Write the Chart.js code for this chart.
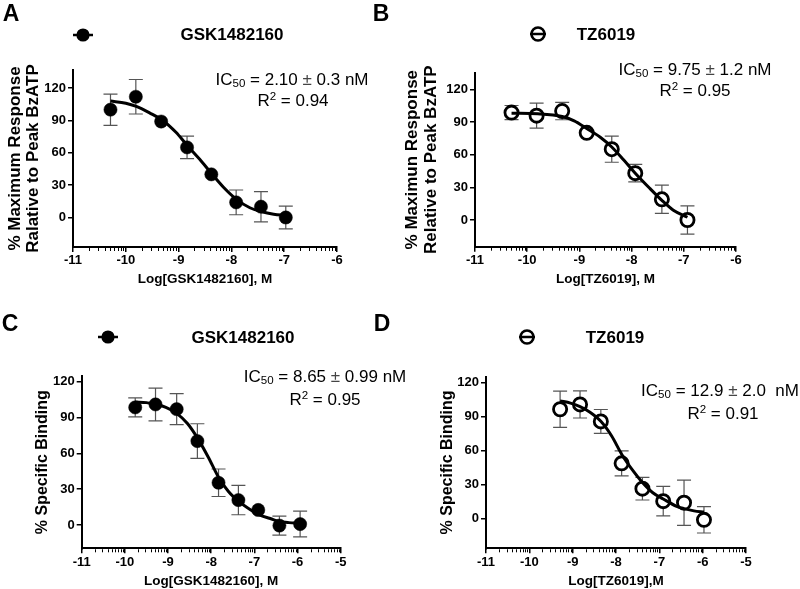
<!DOCTYPE html>
<html><head><meta charset="utf-8">
<script src="https://cdn.jsdelivr.net/npm/chart.js@4.4.1/dist/chart.umd.min.js"></script>
<style>
html,body{margin:0;padding:0;background:#fff}
body{width:800px;height:589px;position:relative;overflow:hidden;font-family:"Liberation Sans",Arial,sans-serif;color:#000}
canvas{position:absolute}
.t{position:absolute;white-space:pre;line-height:1;transform:translate(-50%,-50%);z-index:5}
.lt{font-weight:bold;font-size:23px}
.lg{font-weight:bold;font-size:17px}
.ic{font-size:17px}
.ic sub{font-size:0.68em;vertical-align:-0.25em;line-height:0}
.ic sup{font-size:0.68em;vertical-align:0.45em;line-height:0}
.pm{color:#444}
.mk{position:absolute;transform:translate(-50%,-50%);z-index:5}
</style>
</head><body>
<canvas id="cA" width="400" height="295" style="left:0;top:0"></canvas>
<canvas id="cB" width="400" height="295" style="left:400px;top:0"></canvas>
<canvas id="cC" width="400" height="297" style="left:0;top:292px"></canvas>
<canvas id="cD" width="400" height="297" style="left:400px;top:292px"></canvas>

<div class="t lt" style="left:11px;top:13px">A</div>
<div class="t lt" style="left:381px;top:13px">B</div>
<div class="t lt" style="left:10px;top:323px">C</div>
<div class="t lt" style="left:382px;top:323px">D</div>

<svg class="mk" style="left:83px;top:35px" width="24" height="16"><line x1="2" y1="8" x2="22" y2="8" stroke="#000" stroke-width="2.5"/><circle cx="12" cy="8" r="6.6" fill="#000"/></svg>
<div class="t lg" style="left:232px;top:34px">GSK1482160</div>
<svg class="mk" style="left:538px;top:33.5px" width="24" height="18"><circle cx="12" cy="9" r="6.5" fill="#fff" stroke="#000" stroke-width="2.6"/><line x1="4" y1="9" x2="20" y2="9" stroke="#000" stroke-width="2.5"/></svg>
<div class="t lg" style="left:606px;top:33.5px">TZ6019</div>
<svg class="mk" style="left:108px;top:337px" width="24" height="16"><line x1="2" y1="8" x2="22" y2="8" stroke="#000" stroke-width="2.5"/><circle cx="12" cy="8" r="6.6" fill="#000"/></svg>
<div class="t lg" style="left:243px;top:337px">GSK1482160</div>
<svg class="mk" style="left:527px;top:337px" width="24" height="18"><circle cx="12" cy="9" r="6.5" fill="#fff" stroke="#000" stroke-width="2.6"/><line x1="4" y1="9" x2="20" y2="9" stroke="#000" stroke-width="2.5"/></svg>
<div class="t lg" style="left:615px;top:337px">TZ6019</div>

<div class="t ic" style="left:292px;top:78.5px">IC<sub>50</sub> = 2.10 <span class="pm">±</span> 0.3 nM</div>
<div class="t ic" style="left:293px;top:99.5px">R<sup>2</sup> = 0.94</div>
<div class="t ic" style="left:695px;top:68.5px">IC<sub>50</sub> = 9.75 <span class="pm">±</span> 1.2 nM</div>
<div class="t ic" style="left:695px;top:90px">R<sup>2</sup> = 0.95</div>
<div class="t ic" style="left:325px;top:376px">IC<sub>50</sub> = 8.65 <span class="pm">±</span> 0.99 nM</div>
<div class="t ic" style="left:325px;top:398.5px">R<sup>2</sup> = 0.95</div>
<div class="t ic" style="left:720px;top:390px">IC<sub>50</sub> = 12.9 <span class="pm">±</span> 2.0  nM</div>
<div class="t ic" style="left:723px;top:412.5px">R<sup>2</sup> = 0.91</div>

<script>
// ---------- tick labels ----------
const xTicksAB = [-11, -10, -9, -8, -7, -6];
const xTicksCD = [-11, -10, -9, -8, -7, -6, -5];
const yTicks = [0, 30, 60, 90, 120];

// ---------- Panel A: GSK1482160, functional response ----------
const aLogConc = [-10.29, -9.81, -9.33, -8.84, -8.38, -7.91, -7.44, -6.97];
const aResp    = [100, 112, 89, 65, 40, 14, 10, 0];
const aErr     = [14.5, 16, 0, 10.5, 0, 11.5, 14, 10.5];
const aFitX    = [-10.29, -10.0, -9.8, -9.55, -9.3, -9.05, -8.84, -8.6, -8.38, -8.15, -7.91, -7.65, -7.44, -7.2, -6.97];
const aFitY    = [108, 106, 103, 97, 90, 79, 67, 54, 41, 28, 17, 9, 5.5, 3, 2];

// ---------- Panel B: TZ6019, functional response ----------
const bLogConc = [-10.30, -9.82, -9.33, -8.86, -8.38, -7.93, -7.42, -6.93];
const bResp    = [98.6, 95.8, 100, 80, 65, 43, 19, 0];
const bErr     = [6.5, 11.5, 8, 0, 12, 8, 13, 13];
const bFitX    = [-10.30, -9.8, -9.33, -9.1, -8.86, -8.6, -8.38, -8.15, -7.93, -7.65, -7.42, -7.2, -6.93];
const bFitY    = [98, 97.5, 95, 91, 84, 76, 67, 55, 43, 29, 18, 9, 2.5];

// ---------- Panel C: GSK1482160, specific binding ----------
const cLogConc = [-9.76, -9.29, -8.80, -8.32, -7.83, -7.37, -6.91, -6.42, -5.94];
const cResp    = [98.5, 101, 97, 70.3, 35.4, 20.9, 12.6, -0.5, 0.8];
const cErr     = [8, 13.7, 13, 14.5, 11.5, 12.3, 0, 8, 10.8];
const cFitX    = [-9.76, -9.5, -9.29, -9.05, -8.8, -8.55, -8.32, -8.07, -7.83, -7.6, -7.37, -7.1, -6.91, -6.6, -6.42, -6.2, -5.94];
const cFitY    = [103, 102.5, 101, 98.5, 93.5, 85, 73, 57, 40, 28, 20, 13, 9, 5, 3, 2, 1.5];

// ---------- Panel D: TZ6019, specific binding ----------
const dLogConc = [-9.29, -8.83, -8.35, -7.87, -7.39, -6.91, -6.43, -5.97];
const dResp    = [96.6, 100.9, 85.9, 48.9, 26.6, 15.6, 14.2, -0.9];
const dErr     = [16, 12, 10.5, 11, 10, 13, 20, 11.6];
const dFitX    = [-9.29, -9.05, -8.83, -8.6, -8.35, -8.1, -7.87, -7.6, -7.39, -7.15, -6.91, -6.6, -6.43, -6.2, -5.97];
const dFitY    = [104, 102, 99, 94, 86, 73, 57, 42, 32, 23, 17.5, 11, 9, 7, 6];

const FONT = '"Liberation Sans", Arial, sans-serif';

const errorBarPlugin = {
  id: 'errorBars',
  beforeDatasetsDraw(chart) {
    const ctx = chart.ctx, xs = chart.scales.x, ys = chart.scales.y;
    chart.data.datasets.forEach(ds => {
      if (!ds.errorBars) return;
      ctx.save();
      ctx.strokeStyle = '#555';
      ctx.lineWidth = 1.2;
      ds.data.forEach((p, i) => {
        const e = ds.errorBars[i];
        if (!e) return;
        const px = xs.getPixelForValue(p.x);
        const y1 = ys.getPixelForValue(p.y + e), y2 = ys.getPixelForValue(p.y - e);
        ctx.beginPath();
        ctx.moveTo(px, y1); ctx.lineTo(px, y2);
        ctx.moveTo(px - 7, y1); ctx.lineTo(px + 7, y1);
        ctx.moveTo(px - 7, y2); ctx.lineTo(px + 7, y2);
        ctx.stroke();
      });
      ctx.restore();
    });
  }
};

const minorTickPlugin = {
  id: 'minorTicks',
  afterDraw(chart) {
    const xs = chart.scales.x, ctx = chart.ctx, yb = chart.chartArea.bottom + 1;
    ctx.save();
    ctx.strokeStyle = '#000';
    ctx.lineWidth = 1;
    ctx.beginPath();
    for (let d = Math.round(xs.min); d < Math.round(xs.max); d++) {
      for (let k = 2; k <= 9; k++) {
        const px = Math.round(xs.getPixelForValue(d + Math.log10(k))) + 0.5;
        ctx.moveTo(px, yb); ctx.lineTo(px, yb + 3);
      }
    }
    ctx.stroke();
    ctx.restore();
  }
};

function makePanel(p) {
  const cv = document.getElementById(p.id);
  const W = cv.width, H = cv.height;
  const l = p.area.l - p.cx, r = p.area.r - p.cx, t = p.area.t - p.cy, b = p.area.b - p.cy;
  const xH = H - b;
  const XTS = 13.5;
  const xTitleFont = {family: FONT, size: XTS, weight: 'bold', lineHeight: 1.05};
  const yTitleFont = {family: FONT, size: p.yTitleSize, weight: 'bold', lineHeight: p.yTitleLH};
  const xPadBottom = H - (XTS * 1.05) / 2 - (p.xTitleY - p.cy);
  const yPadTop = (p.yTitleX - p.cx) - (p.yTitleSize * p.yTitleLH) / 2;
  const pts = p.xs.map((x, i) => ({x: x, y: p.ys[i]}));
  const fit = p.fx.map((x, i) => ({x: x, y: p.fy[i]}));
  return new Chart(cv, {
    type: 'scatter',
    data: {
      datasets: [
        {
          label: p.name + ' fit',
          data: fit,
          showLine: true,
          pointRadius: 0,
          borderColor: '#000',
          borderWidth: 3,
          cubicInterpolationMode: 'monotone',
          fill: false
        },
        {
          label: p.name,
          data: pts,
          errorBars: p.err,
          pointRadius: 6.6,
          pointBackgroundColor: p.open ? '#fff' : '#000',
          pointBorderColor: '#000',
          pointBorderWidth: p.open ? 2.8 : 0.5,
          showLine: false
        }
      ]
    },
    options: {
      responsive: false,
      animation: false,
      devicePixelRatio: 1,
      layout: {padding: {left: 0, top: t, right: W - r, bottom: 0}},
      plugins: {legend: {display: false}, tooltip: {enabled: false}},
      scales: {
        x: {
          type: 'linear', min: p.xmin, max: p.xmax,
          afterBuildTicks: s => { s.ticks = p.xticks.map(v => ({value: v})); },
          afterFit: s => { s.height = xH; },
          ticks: {color: '#000', font: {family: FONT, size: 13, weight: 'bold'}, padding: 1, autoSkip: false, maxRotation: 0, callback: v => String(v)},
          grid: {display: true, drawOnChartArea: false, drawTicks: true, tickLength: 5, color: '#000', lineWidth: 1.5},
          border: {display: true, color: '#000', width: 2},
          title: {display: true, text: p.xTitle, color: '#000', font: xTitleFont, padding: {top: 0, bottom: xPadBottom}}
        },
        y: {
          type: 'linear', min: p.ymin, max: p.ymax,
          afterBuildTicks: s => { s.ticks = yTicks.map(v => ({value: v})); },
          afterFit: s => { s.width = l; },
          ticks: {color: '#000', font: {family: FONT, size: 13, weight: 'bold'}, padding: 2, autoSkip: false, callback: v => String(v)},
          grid: {display: true, drawOnChartArea: false, drawTicks: true, tickLength: 5, color: '#000', lineWidth: 1.5},
          border: {display: true, color: '#000', width: 2},
          title: {display: true, text: p.yTitle, color: '#000', font: yTitleFont, padding: {top: yPadTop, bottom: 0}}
        }
      }
    },
    plugins: [errorBarPlugin, minorTickPlugin]
  });
}

makePanel({id: 'cA', cx: 0, cy: 0, area: {l: 73, r: 337, t: 70, b: 247},
  xmin: -11, xmax: -6, ymin: -27.4, ymax: 136.8, xticks: xTicksAB,
  xs: aLogConc, ys: aResp, err: aErr, fx: aFitX, fy: aFitY, open: false, name: 'GSK1482160',
  xTitle: 'Log[GSK1482160], M', xTitleY: 279,
  yTitle: ['% Maximum Response', 'Ralative to Peak BzATP'], yTitleX: 15, yTitleSize: 17, yTitleLH: 1.1});

makePanel({id: 'cB', cx: 400, cy: 0, area: {l: 475, r: 736, t: 72.7, b: 246.7},
  xmin: -11, xmax: -6, ymin: -24.5, ymax: 135.2, xticks: xTicksAB,
  xs: bLogConc, ys: bResp, err: bErr, fx: bFitX, fy: bFitY, open: true, name: 'TZ6019',
  xTitle: 'Log[TZ6019], M', xTitleY: 279,
  yTitle: ['% Maximun Response', 'Relative to Peak BzATP'], yTitleX: 412, yTitleSize: 17, yTitleLH: 1.12});

makePanel({id: 'cC', cx: 0, cy: 292, area: {l: 81.7, r: 340.7, t: 376, b: 548.3},
  xmin: -11, xmax: -5, ymin: -19.5, ymax: 124.8, xticks: xTicksCD,
  xs: cLogConc, ys: cResp, err: cErr, fx: cFitX, fy: cFitY, open: false, name: 'GSK1482160',
  xTitle: 'Log[GSK1482160], M', xTitleY: 581.5,
  yTitle: '% Specific Binding', yTitleX: 42.5, yTitleSize: 16, yTitleLH: 1.2});

makePanel({id: 'cD', cx: 400, cy: 292, area: {l: 486, r: 746, t: 376.5, b: 548.3},
  xmin: -11, xmax: -5, ymin: -26, ymax: 125.5, xticks: xTicksCD,
  xs: dLogConc, ys: dResp, err: dErr, fx: dFitX, fy: dFitY, open: true, name: 'TZ6019',
  xTitle: 'Log[TZ6019],M', xTitleY: 581.5,
  yTitle: '% Specific Binding', yTitleX: 447.5, yTitleSize: 16, yTitleLH: 1.2});
</script>
</body></html>
